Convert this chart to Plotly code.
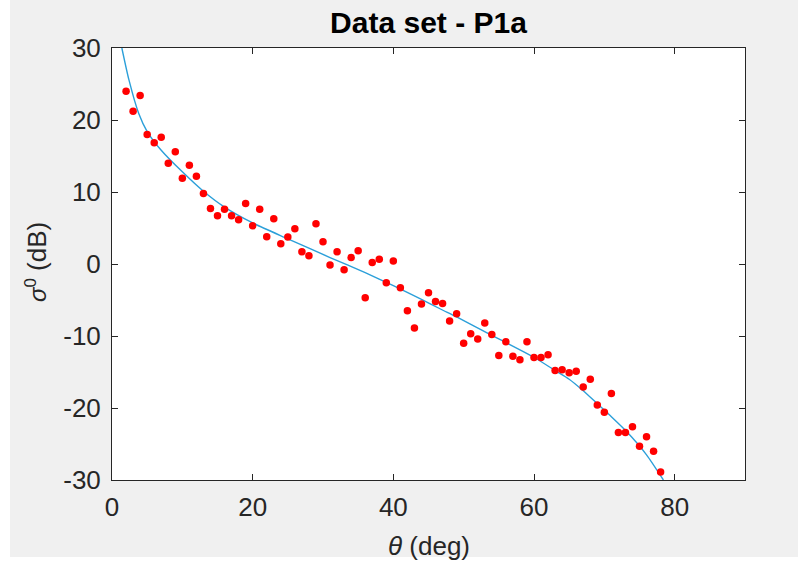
import plotly.graph_objects as go

# measured data points (incidence angle in degrees, sigma0 in dB)
theta_deg = list(range(2, 79))
sigma0_db = [
    24.0, 21.2, 23.4, 18.0, 16.85, 17.6, 14.0, 15.6, 11.9, 13.7,
    12.2, 9.8, 7.7, 6.7, 7.6, 6.7, 6.15, 8.4, 5.3, 7.6,
    3.8, 6.3, 2.8, 3.75, 4.9, 1.7, 1.15, 5.6, 3.1, -0.15,
    1.7, -0.8, 0.9, 1.85, -4.7, 0.2, 0.65, -2.6, 0.4, -3.3,
    -6.5, -8.9, -5.55, -4.0, -5.2, -5.5, -7.9, -6.9, -11.0, -9.7,
    -10.4, -8.2, -9.8, -12.7, -10.8, -12.8, -13.3, -10.8, -13.0, -13.0,
    -12.6, -14.8, -14.7, -15.1, -14.9, -17.1, -16.0, -19.6, -20.6, -18.0,
    -23.4, -23.4, -22.6, -25.3, -24.0, -26.0, -28.9,
]

# fitted model curve
fit_theta = [1.4, 2.4, 3.8, 5, 7, 10, 13, 16, 20, 25, 31, 36, 40, 44,
             46.7, 49, 54, 56, 60, 63, 65, 67, 69, 71, 73, 76, 78.4]
fit_sigma = [30.0, 25.6, 20.9, 18.4, 15.8, 12.8, 10.1, 7.9, 5.7, 3.5, 0.9, -1.2,
             -3.0, -4.9, -6.25, -7.35, -9.9, -10.9, -12.95, -14.8, -16.0, -17.6,
             -19.4, -21.2, -23.1, -26.5, -30.0]

x_ticks = [0, 20, 40, 60, 80]
y_ticks = [-30, -20, -10, 0, 10, 20, 30]

AX = "#262626"
FONT = "Liberation Sans, Arial, Helvetica, sans-serif"

fig = go.Figure()
fig.add_trace(go.Scatter(
    x=fit_theta, y=fit_sigma, mode="lines",
    line=dict(color="#2b9fd9", width=1.4, shape="spline", smoothing=0.6),
    hoverinfo="skip", showlegend=False,
))
fig.add_trace(go.Scatter(
    x=theta_deg, y=sigma0_db, mode="markers",
    marker=dict(color="#ff0000", size=7.5, line=dict(width=0)),
    showlegend=False,
))

axis_common = dict(
    showgrid=False, zeroline=False, showline=True, linecolor=AX, linewidth=1,
    mirror="ticks", ticks="inside", ticklen=6, tickwidth=1, tickcolor=AX,
    tickfont=dict(family=FONT, size=26, color=AX),
)
fig.update_xaxes(range=[0, 90], tickvals=x_ticks, ticktext=[str(v) for v in x_ticks],
                 ticklabelstandoff=4, **axis_common)
fig.update_yaxes(range=[-30, 30], tickvals=y_ticks, ticktext=[str(v) for v in y_ticks],
                 ticklabelstandoff=5, **axis_common)

fig.update_layout(
    width=798, height=561,
    margin=dict(l=112, r=53, t=48, b=81),
    paper_bgcolor="#f0f0f0", plot_bgcolor="white",
    title=dict(text="<b>Data set - P1a</b>", x=(112 + 745) / 2 / 798, xanchor="center",
               y=1 - 22 / 561, yanchor="middle", yref="container",
               font=dict(family=FONT, size=30, color="black")),
    annotations=[
        dict(text="<i>θ</i> (deg)", xref="paper", yref="paper", x=0.5, y=(480 - 546) / 432,
             xanchor="center", yanchor="middle", showarrow=False,
             font=dict(family=FONT, size=26, color=AX)),
        dict(text="<span style=\"font-size:24px\"><i>σ</i><sup>0</sup></span> (dB)",
             xref="paper", yref="paper",
             x=(36 - 112) / 633, y=(480 - 262) / 432, textangle=-90,
             xanchor="center", yanchor="middle", showarrow=False,
             font=dict(family=FONT, size=26, color=AX)),
    ],
    shapes=[
        dict(type="rect", xref="paper", yref="paper", x0=(0 - 112) / 633, x1=(10 - 112) / 633,
             y0=(480 - 561) / 432, y1=(480 - 0) / 432, fillcolor="white", line=dict(width=0),
             layer="below"),
        dict(type="rect", xref="paper", yref="paper", x0=(0 - 112) / 633, x1=(798 - 112) / 633,
             y0=(480 - 561) / 432, y1=(480 - 557) / 432, fillcolor="white", line=dict(width=0),
             layer="below"),
    ],
)

fig.write_html(
    "out.html",
    config={"displayModeBar": False},
    post_script="document.body.style.margin='0';document.body.style.overflow='hidden';",
)
